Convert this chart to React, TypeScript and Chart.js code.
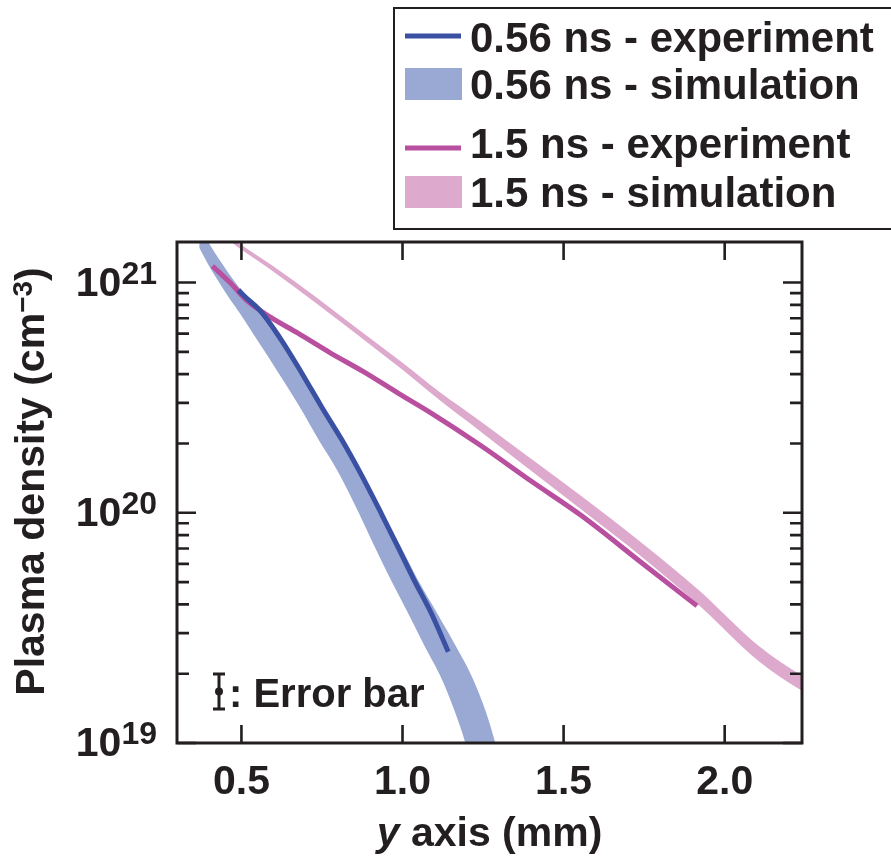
import React, { useEffect, useRef } from 'react';
import { Chart, registerables } from 'chart.js';

Chart.register(...registerables);

const FONT = '"Liberation Sans", Arial, Helvetica, sans-serif';
const INK = '#231f20';
const BLUE_LINE = '#3a50a2';
const BLUE_BAND = '#9aa9d4';
const MAGENTA = '#b94f9f';
const PINK = '#dda9cd';

// Axes
const X_MIN = 0.3;
const X_MAX = 2.24;
const Y_MIN = 1e19;
const Y_MAX = 1.5e21;
const xTickValues = [0.5, 1.0, 1.5, 2.0];
const xTickLabels = ['0.5', '1.0', '1.5', '2.0'];
const yMajorValues = [1e19, 1e20, 1e21];
const yMajorBase = ['10', '10', '10'];
const yMajorExp = ['19', '20', '21'];

// 0.56 ns - simulation (band: density levels with left / right edge positions, mm)
const sim056Density = [1.78e21, 1.5e21, 1.22e21, 1.0e21, 8.4e20, 7.4e20, 5.6e20, 4.05e20, 2.88e20, 2.07e20, 1.49e20, 1.0e20, 7.1e19, 5.1e19, 3.67e19, 2.61e19, 1.88e19, 1.35e19, 1.0e19, 5.66e18, 2.08e18];
const sim056XLeft = [0.335, 0.36, 0.394, 0.431, 0.466, 0.494, 0.55, 0.615, 0.681, 0.74, 0.802, 0.864, 0.914, 0.964, 1.017, 1.07, 1.123, 1.164, 1.195, 1.238, 1.322];
const sim056XRight = [0.369, 0.397, 0.438, 0.481, 0.522, 0.553, 0.618, 0.687, 0.749, 0.808, 0.869, 0.936, 0.995, 1.048, 1.107, 1.167, 1.22, 1.26, 1.288, 1.332, 1.416];

// 0.56 ns - experiment
const exp056X = [0.491, 0.512, 0.556, 0.625, 0.687, 0.749, 0.812, 0.869, 0.933, 0.986, 1.036, 1.089, 1.142];
const exp056Density = [9.27e20, 8.65e20, 7.6e20, 5.6e20, 4.05e20, 2.88e20, 2.07e20, 1.49e20, 1.0e20, 7.1e19, 5.1e19, 3.67e19, 2.49e19];

// 1.5 ns - simulation (band: upper / lower density at each position)
const sim15X = [0.466, 0.484, 0.59, 0.731, 0.849, 0.995, 1.111, 1.245, 1.379, 1.556, 1.743, 1.921, 2.107, 2.248, 2.336];
const sim15Upper = [1.58e21, 1.51e21, 1.2e21, 8.65e20, 6.47e20, 4.54e20, 3.38e20, 2.48e20, 1.8e20, 1.18e20, 7.4e19, 4.6e19, 2.63e19, 1.93e19, 1.66e19];
const sim15Lower = [1.51e21, 1.44e21, 1.14e21, 8.15e20, 6.1e20, 4.23e20, 3.12e20, 2.24e20, 1.6e20, 1.03e20, 6.43e19, 3.96e19, 2.26e19, 1.66e19, 1.43e19];

// 1.5 ns - experiment
const exp15X = [0.41, 0.466, 0.519, 0.59, 0.674, 0.777, 0.88, 0.986, 1.089, 1.245, 1.4, 1.556, 1.743, 1.914];
const exp15Density = [1.18e21, 9.95e20, 8.3e20, 7.08e20, 6.04e20, 4.94e20, 4.09e20, 3.31e20, 2.71e20, 1.95e20, 1.37e20, 9.7e19, 6.05e19, 3.94e19];

const legendLabels = ['0.56 ns - experiment', '0.56 ns - simulation', '1.5 ns - experiment', '1.5 ns - simulation'];
const legendColors = [BLUE_LINE, BLUE_BAND, MAGENTA, PINK];
const legendKinds = ['line', 'box', 'line', 'box'];

const pts = (xs: number[], ys: number[]) => xs.map((x, i) => ({ x, y: ys[i] }));

const decorPlugin = {
  id: 'decor',
  afterDraw(chart: any) {
    const { ctx, chartArea: a, scales } = chart;
    const xs = scales.x;
    const ys = scales.y;
    ctx.save();
    ctx.strokeStyle = INK;
    ctx.fillStyle = INK;

    // frame
    ctx.lineWidth = 3;
    ctx.strokeRect(a.left, a.top, a.right - a.left, a.bottom - a.top);

    // ticks (inward, mirrored)
    ctx.lineWidth = 2.6;
    ctx.beginPath();
    xTickValues.forEach((v) => {
      const px = xs.getPixelForValue(v);
      ctx.moveTo(px, a.bottom);
      ctx.lineTo(px, a.bottom - 18);
      ctx.moveTo(px, a.top);
      ctx.lineTo(px, a.top + 18);
    });
    for (let e = 19; e <= 21; e++) {
      for (let k = 1; k <= 9; k++) {
        const v = k * Math.pow(10, e);
        if (v < Y_MIN * 0.999 || v > Y_MAX) continue;
        const py = ys.getPixelForValue(v);
        const len = k === 1 ? 19 : 12;
        ctx.moveTo(a.left, py);
        ctx.lineTo(a.left + len, py);
        ctx.moveTo(a.right, py);
        ctx.lineTo(a.right - len, py);
      }
    }
    ctx.stroke();

    // x tick labels
    ctx.font = `bold 41px ${FONT}`;
    ctx.textAlign = 'center';
    ctx.textBaseline = 'alphabetic';
    xTickValues.forEach((v, i) => {
      ctx.fillText(xTickLabels[i], xs.getPixelForValue(v), a.bottom + 51);
    });

    // y tick labels with superscript
    ctx.textAlign = 'left';
    yMajorValues.forEach((v, i) => {
      const py = ys.getPixelForValue(v);
      ctx.font = `bold 32px ${FONT}`;
      const w2 = ctx.measureText(yMajorExp[i]).width;
      ctx.font = `bold 41px ${FONT}`;
      const w1 = ctx.measureText(yMajorBase[i]).width;
      const right = a.left - 20;
      ctx.fillText(yMajorBase[i], right - w2 - w1, py + 13);
      ctx.font = `bold 32px ${FONT}`;
      ctx.fillText(yMajorExp[i], right - w2, py + 1);
    });

    // x title
    {
      const fs = 41;
      ctx.font = `italic bold ${fs}px ${FONT}`;
      const wy = ctx.measureText('y').width;
      ctx.font = `bold ${fs}px ${FONT}`;
      const rest = ' axis (mm)';
      const wr = ctx.measureText(rest).width;
      const cx = (a.left + a.right) / 2;
      const x0 = cx - (wy + wr) / 2;
      const base = a.bottom + 103;
      ctx.font = `italic bold ${fs}px ${FONT}`;
      ctx.fillText('y', x0, base);
      ctx.font = `bold ${fs}px ${FONT}`;
      ctx.fillText(rest, x0 + wy, base);
    }

    // y title (rotated, with superscript)
    {
      const fs = 41;
      const sfs = 28;
      const p1 = 'Plasma density (cm';
      const sup = '\u22123';
      const p3 = ')';
      ctx.font = `bold ${fs}px ${FONT}`;
      const w1 = ctx.measureText(p1).width;
      const w3 = ctx.measureText(p3).width;
      ctx.font = `bold ${sfs}px ${FONT}`;
      const w2 = ctx.measureText(sup).width;
      const total = w1 + w2 + w3;
      ctx.save();
      ctx.translate(44, (a.top + a.bottom) / 2 - 11);
      ctx.rotate(-Math.PI / 2);
      let x = -total / 2;
      ctx.font = `bold ${fs}px ${FONT}`;
      ctx.fillText(p1, x, 0);
      x += w1;
      ctx.font = `bold ${sfs}px ${FONT}`;
      ctx.fillText(sup, x, -12);
      x += w2;
      ctx.font = `bold ${fs}px ${FONT}`;
      ctx.fillText(p3, x, 0);
      ctx.restore();
    }

    // error bar key
    {
      const ex = a.left + 42;
      const top = a.bottom - 69;
      const bot = a.bottom - 34;
      const mid = (top + bot) / 2;
      ctx.lineWidth = 3;
      ctx.beginPath();
      ctx.moveTo(ex, top);
      ctx.lineTo(ex, bot);
      ctx.moveTo(ex - 6, top);
      ctx.lineTo(ex + 6, top);
      ctx.moveTo(ex - 6, bot);
      ctx.lineTo(ex + 6, bot);
      ctx.stroke();
      ctx.beginPath();
      ctx.arc(ex, mid, 4, 0, Math.PI * 2);
      ctx.fill();
      ctx.font = `bold 40px ${FONT}`;
      ctx.textAlign = 'left';
      ctx.fillText(': Error bar', ex + 10, a.bottom - 36);
    }

    // legend box
    {
      ctx.lineWidth = 2;
      ctx.strokeStyle = INK;
      ctx.strokeRect(394, 8, 530, 221);
      const baselines = [52, 99, 158, 207];
      const lineYs = [36, 0, 148, 0];
      const boxTops = [0, 68, 0, 176];
      ctx.font = `bold 42px ${FONT}`;
      ctx.textAlign = 'left';
      legendLabels.forEach((lab, i) => {
        if (legendKinds[i] === 'line') {
          ctx.strokeStyle = legendColors[i];
          ctx.lineWidth = 5;
          ctx.beginPath();
          ctx.moveTo(405, lineYs[i]);
          ctx.lineTo(461, lineYs[i]);
          ctx.stroke();
        } else {
          ctx.fillStyle = legendColors[i];
          ctx.fillRect(405, boxTops[i], 57, 32);
        }
        ctx.fillStyle = INK;
        ctx.fillText(lab, 470, baselines[i]);
      });
    }
    ctx.restore();
  },
};

export default function App() {
  const ref = useRef<HTMLCanvasElement>(null);
  useEffect(() => {
    const chart = new Chart(ref.current as HTMLCanvasElement, {
      type: 'line',
      data: {
        datasets: [
          {
            label: '1.5 ns - simulation (upper)',
            data: pts(sim15X, sim15Upper),
            borderWidth: 0,
            borderColor: 'rgba(0,0,0,0)',
            fill: false,
            order: 4,
          },
          {
            label: '1.5 ns - simulation',
            data: pts(sim15X, sim15Lower),
            borderWidth: 0,
            borderColor: 'rgba(0,0,0,0)',
            backgroundColor: PINK,
            fill: 0,
            order: 4,
          },
          {
            label: '0.56 ns - simulation (left)',
            data: pts(sim056XLeft, sim056Density),
            borderWidth: 0,
            borderColor: 'rgba(0,0,0,0)',
            fill: false,
            order: 3,
          },
          {
            label: '0.56 ns - simulation',
            data: pts(sim056XRight, sim056Density),
            borderWidth: 0,
            borderColor: 'rgba(0,0,0,0)',
            backgroundColor: BLUE_BAND,
            fill: 2,
            order: 3,
          },
          {
            label: '1.5 ns - experiment',
            data: pts(exp15X, exp15Density),
            borderColor: MAGENTA,
            borderWidth: 5,
            fill: false,
            order: 1,
          },
          {
            label: '0.56 ns - experiment',
            data: pts(exp056X, exp056Density),
            borderColor: BLUE_LINE,
            borderWidth: 5,
            fill: false,
            order: 0,
          },
        ],
      },
      options: {
        responsive: false,
        animation: false,
        devicePixelRatio: 1,
        layout: { padding: { left: 177, right: 89, top: 242, bottom: 113 } },
        scales: {
          x: { type: 'linear', min: X_MIN, max: X_MAX, display: false },
          y: { type: 'logarithmic', min: Y_MIN, max: Y_MAX, display: false },
        },
        elements: {
          point: { radius: 0, hoverRadius: 0 },
          line: { cubicInterpolationMode: 'monotone', borderCapStyle: 'butt' },
        },
        plugins: {
          legend: { display: false },
          tooltip: { enabled: false },
        },
      },
      plugins: [decorPlugin],
    } as any);
    return () => chart.destroy();
  }, []);
  return (
    <div style={{ position: 'absolute', left: 0, top: 0, width: 891, height: 856, background: '#fff' }}>
      <canvas ref={ref} width={891} height={856} style={{ display: 'block', width: 891, height: 856 }} />
    </div>
  );
}
